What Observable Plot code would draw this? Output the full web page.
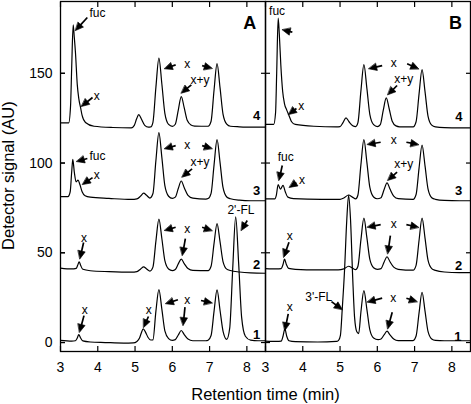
<!DOCTYPE html>
<html><head><meta charset="utf-8">
<script src="https://cdn.jsdelivr.net/npm/d3@7"></script>
<script src="https://cdn.jsdelivr.net/npm/@observablehq/plot@0.6"></script>
<style>
body{margin:0;background:#fff}
#chart svg{display:block}
</style>
</head><body><div id="chart"></div>
<script>
// ---- data ----
const panels = ["A", "B"];
const xTicks = [3, 4, 5, 6, 7, 8];
const yTicks = [0, 50, 100, 150];

// chromatogram traces: [retention time (min), detector signal (AU, as plotted)]
const A1 = [[3.0,1.2],[3.3,0.8],[3.4,1.0],[3.45,2.5],[3.49,4.4],[3.54,2.5],[3.6,0.9],[3.8,0.3],[4.2,0],[4.7,-0.3],[4.95,-0.2],[5.05,0.6],[5.12,2.5],[5.17,5.5],[5.22,7.6],[5.28,5.8],[5.35,2.8],[5.42,1.4],[5.48,1.5],[5.56,17.5],[5.64,29.5],[5.72,18.5],[5.8,6.5],[5.9,2.2],[6.0,1.2],[6.08,1.6],[6.16,4.2],[6.24,6.7],[6.32,4.4],[6.42,1.9],[6.55,1.0],[6.9,1.0],[6.96,1.3],[7.04,3.9],[7.12,17.5],[7.2,29.3],[7.28,18],[7.36,6.4],[7.46,1.8],[7.54,8],[7.62,41],[7.7,70],[7.78,44],[7.86,14],[7.96,3.5],[8.1,1.3],[8.3,1.0],[8.5,1.0]];
const A2 = [[3.0,41.5],[3.3,41],[3.42,41.3],[3.46,43],[3.5,45],[3.54,43],[3.6,40.8],[3.8,40],[4.3,39.5],[4.9,39.2],[5.05,39.5],[5.15,41],[5.23,42.2],[5.31,41],[5.4,39.8],[5.48,42.0],[5.56,56.5],[5.64,68.7],[5.72,57.8],[5.8,45.6],[5.9,41],[6.0,40.1],[6.08,40.7],[6.16,43.8],[6.24,46.5],[6.32,44],[6.42,41.2],[6.55,40.2],[6.96,40.1],[7.04,42.5],[7.12,55.2],[7.2,66.3],[7.28,56.2],[7.36,45.1],[7.46,40.9],[7.56,40.1],[7.8,39.3],[8.1,38.8],[8.5,38.6]];
const A3 = [[3.0,81.3],[3.2,81.3],[3.26,84],[3.3,95],[3.33,102],[3.37,95],[3.42,89.5],[3.47,90.5],[3.52,88],[3.58,84],[3.66,81.8],[3.8,81],[4.3,80.3],[4.9,79.7],[5.05,80],[5.15,81.6],[5.23,83.2],[5.31,82],[5.4,80.5],[5.48,83.0],[5.56,101.5],[5.64,117],[5.72,103],[5.8,87.4],[5.9,81.5],[6.0,80.3],[6.08,81],[6.16,85.8],[6.24,90],[6.32,86.2],[6.42,82],[6.55,80.4],[6.9,79.9],[6.96,80.2],[7.04,83.1],[7.12,99],[7.2,113],[7.28,100.4],[7.36,86.4],[7.46,81.1],[7.56,80.1],[7.8,79.3],[8.1,79],[8.5,79]];
const A4 = [[3.0,122.4],[3.22,122.4],[3.27,132],[3.3,153],[3.34,177],[3.37,170],[3.4,162],[3.45,143.7],[3.49,136],[3.54,130.7],[3.58,126.5],[3.67,122.6],[3.9,120.5],[4.4,119.8],[4.9,119.6],[4.98,121],[5.04,124.5],[5.1,127],[5.17,124.5],[5.26,121],[5.36,120],[5.42,120.1],[5.48,122.7],[5.56,142.3],[5.64,158.5],[5.72,143.9],[5.8,127.7],[5.9,121.5],[6.0,120.4],[6.08,121.6],[6.16,129.5],[6.24,137],[6.32,130.7],[6.4,123.8],[6.5,121.2],[6.6,120.6],[6.96,120.5],[7.04,123.3],[7.12,140.7],[7.2,155.4],[7.28,142],[7.36,127.3],[7.46,121.7],[7.56,120.5],[7.8,120.2],[8.1,120],[8.5,120]];
const B1 = [[3.0,0.8],[3.3,0.6],[3.42,0.8],[3.47,3.5],[3.52,7.6],[3.57,3.5],[3.63,1.0],[3.8,0.5],[4.4,0.3],[4.9,0.6],[4.96,1.2],[5.01,4],[5.06,19],[5.12,40],[5.18,68],[5.23,82],[5.28,69],[5.34,36],[5.39,14],[5.45,6],[5.5,5],[5.56,17],[5.64,28.9],[5.72,18.5],[5.8,7],[5.9,2.5],[6.02,1.6],[6.1,2.0],[6.18,4.2],[6.26,6.3],[6.34,4.3],[6.44,2.0],[6.56,1.1],[6.96,1.1],[7.04,3.6],[7.12,16.5],[7.2,28],[7.28,17.5],[7.36,6.2],[7.46,2.0],[7.56,1.2],[7.8,1.0],[8.2,1.0],[8.5,1.0]];
const B2 = [[3.0,41.2],[3.3,41],[3.42,41.2],[3.47,43.5],[3.51,46.5],[3.56,43.5],[3.62,41.3],[3.8,40.8],[4.4,40.5],[4.95,40.5],[5.1,41],[5.23,42.5],[5.33,41.5],[5.42,40.6],[5.48,42.5],[5.56,57.2],[5.64,69.3],[5.72,58.4],[5.8,46.3],[5.9,41.7],[6.0,40.8],[6.1,41.2],[6.18,44.7],[6.26,47.8],[6.34,45],[6.44,42],[6.56,40.8],[6.96,40.3],[7.04,43],[7.12,57],[7.2,69.3],[7.28,58.2],[7.36,45.9],[7.46,41.2],[7.56,40.2],[7.8,39.3],[8.2,39],[8.5,39]];
const B3 = [[3.0,80],[3.25,80],[3.29,82],[3.34,88],[3.4,85.4],[3.47,87.6],[3.53,84],[3.6,81],[3.75,80.2],[4.5,79.8],[5.0,79.8],[5.1,80.5],[5.23,82.2],[5.33,81],[5.42,80],[5.48,82.2],[5.56,99.1],[5.64,113],[5.72,100.4],[5.8,86.4],[5.9,81.1],[6.0,80.1],[6.1,80.7],[6.18,85.1],[6.26,89],[6.34,85.5],[6.44,81.6],[6.56,80.2],[6.96,79.8],[7.04,82.5],[7.12,97.2],[7.2,110],[7.28,98.4],[7.36,85.6],[7.46,80.7],[7.56,79.8],[7.8,79.2],[8.2,79],[8.5,79]];
const B4 = [[3.0,121.5],[3.22,121.5],[3.27,128],[3.3,150],[3.34,180.7],[3.37,172],[3.41,155],[3.46,140],[3.51,133],[3.57,129.5],[3.63,126.5],[3.7,123],[3.8,121.5],[4.3,120.5],[4.9,120.2],[5.0,120.3],[5.08,122.5],[5.16,125.2],[5.24,123],[5.34,120.8],[5.42,120.3],[5.48,122.5],[5.56,140.2],[5.64,154.8],[5.72,141.6],[5.8,127],[5.9,121.4],[6.0,120.3],[6.08,121.4],[6.16,129.5],[6.24,136.3],[6.32,130.1],[6.4,123.3],[6.5,120.7],[6.6,120.2],[6.96,120.1],[7.04,123],[7.12,138.5],[7.2,152],[7.28,139.8],[7.36,126.2],[7.46,121.1],[7.56,120.1],[7.8,119.7],[8.2,119.6],[8.5,119.6]];

const traces = {A: [A1, A2, A3, A4], B: [B1, B2, B3, B4]};

// annotation labels: [panel, time, signal, text]
const peakLabels = [
  ["A",3.99,183.3,"fuc"],["A",3.97,137,"x"],["A",6.40,155.3,"x"],["A",6.74,146,"x+y"],
  ["A",3.99,103.8,"fuc"],["A",3.97,93,"x"],["A",6.40,109.7,"x"],["A",6.74,100.4,"x+y"],
  ["A",3.63,58.3,"x"],["A",6.40,63.3,"x"],["A",7.84,73.5,"2'-FL"],
  ["A",3.65,18.2,"x"],["A",5.37,18.2,"x"],["A",6.40,23.8,"x"],
  ["B",3.31,184.4,"fuc"],["B",3.96,131.5,"x"],["B",6.44,155.6,"x"],["B",6.71,146.9,"x+y"],
  ["B",3.54,103.2,"fuc"],["B",3.98,90.3,"x"],["B",6.44,112.5,"x"],["B",6.71,99.6,"x+y"],
  ["B",3.65,59,"x"],["B",6.44,66.1,"x"],
  ["B",3.65,19.7,"x"],["B",4.43,25.2,"3'-FL"],["B",6.43,24.9,"x"]
];
// trace numbers: [panel, time, signal, text]
const traceNumbers = [
  ["A",8.26,4.5,"1"],["A",8.26,43.5,"2"],["A",8.26,84.7,"3"],["A",8.26,126.5,"4"],
  ["B",8.16,3.3,"1"],["B",8.18,42.9,"2"],["B",8.18,84.7,"3"],["B",8.19,125.5,"4"]
];
const panelLetters = [["A",8.08,177.7,"A"],["B",8.10,178,"B"]];
// arrows: [panel, tail time, tail signal, tip time, tip signal]
const arrows = [
  ["A",3.72,181.1,3.40,173.8],["A",3.86,136.5,3.56,131.5],["A",6.09,154.7,5.79,152.5],["A",6.80,154.3,7.07,152.8],["A",6.51,143.6,6.24,138.9],
  ["A",3.72,102.5,3.43,100.8],["A",3.86,91.9,3.59,88],["A",6.09,109.7,5.79,107.9],["A",6.80,109.7,7.07,108.1],["A",6.53,96.8,6.26,92.1],
  ["A",3.62,55.7,3.52,46.6],["A",6.09,64.2,5.79,62.4],["A",6.80,64.2,7.07,62.4],["A",6.35,57.9,6.27,48.5],["A",8.01,68,7.85,62.4],
  ["A",3.63,15,3.51,5.7],["A",5.36,14.5,5.23,8.4],["A",6.15,23.8,5.82,21.6],["A",6.77,23.4,7.07,22.1],["A",6.34,19.7,6.29,9.5],
  ["B",3.72,172.9,3.45,174.2],["B",3.83,130.4,3.62,127],["B",6.13,154.3,5.77,152.5],["B",6.80,155.3,7.11,152.5],["B",6.53,143.2,6.28,138],
  ["B",3.45,98.6,3.36,90.3],["B",3.83,89.1,3.64,86.4],["B",6.09,111.6,5.73,110.3],["B",6.78,111.6,7.11,110.3],["B",6.53,94.9,6.28,90.3],
  ["B",3.63,55.9,3.49,47.5],["B",6.09,65.7,5.73,64.2],["B",6.78,65.7,7.11,64.2],["B",6.35,59.6,6.28,49.4],
  ["B",3.61,16,3.52,6.7],["B",4.77,22.8,5.06,18.4],["B",6.13,24.7,5.73,22.5],["B",6.78,24.7,7.07,22.8],["B",6.40,16.9,6.28,7.6]
];
const xTitle = "Retention time (min)";
const yTitle = "Detector signal (AU)";

// ---- layout ----
const W = 471, H = 404, ML = 60, MR = 1, MT = 1, MB = 53;
const xDomain = [3, 8.5], yDomain = [-5, 190];
const kx = (W - ML - MR) / panels.length / (xDomain[1] - xDomain[0]);
const ky = (H - MT - MB) / (yDomain[1] - yDomain[0]);

const lineRows = [];
for (const p of panels) traces[p].forEach((tr, i) => tr.forEach(([t, v]) => lineRows.push({panel: p, trace: p + (i + 1), t, v})));
const toRows = arr => arr.map(([panel, t, v, text]) => ({panel, t, v, text}));
const headLen = 7;
const arrowRows = arrows.map(([panel, t0, v0, t1, v1]) => {
  const dx = (t1 - t0) * kx, dy = -(v1 - v0) * ky, L = Math.hypot(dx, dy);
  const ux = dx / L, uy = dy / L;
  return {panel, t0, v0, t1, v1,
    ts: t1 - ux * (headLen - 1) / kx, vs: v1 + uy * (headLen - 1) / ky,
    rot: Math.atan2(dx, -dy) * 180 / Math.PI};
});
const head = {draw(ctx) { ctx.moveTo(0, 0); ctx.lineTo(-3.6, headLen + 1); ctx.lineTo(3.6, headLen + 1); ctx.closePath(); }};

const font = "'Liberation Sans', Arial, Helvetica, sans-serif";
const chart = Plot.plot({
  width: W, height: H, marginLeft: ML, marginRight: MR, marginTop: MT, marginBottom: MB,
  style: {fontFamily: font, fontSize: "13px", background: "white", color: "black"},
  fx: {domain: panels, padding: 0, axis: null, label: null},
  x: {domain: xDomain, label: null},
  y: {domain: yDomain, label: null},
  marks: [
    Plot.axisX({ticks: xTicks, tickSize: -5, tickPadding: 16, tickFormat: d3.format("d"), fontSize: 14, label: null, strokeWidth: 1.2}),
    Plot.axisX({anchor: "top", ticks: xTicks, tickSize: -5, tickFormat: () => "", label: null, facetAnchor: null, strokeWidth: 1.2}),
    Plot.axisY({ticks: yTicks, tickSize: -5, tickPadding: 13, tickFormat: d3.format("d"), fontSize: 14, label: null, strokeWidth: 1.2}),
    Plot.axisY({anchor: "left", ticks: yTicks, tickSize: -5, tickFormat: () => "", label: null, facetAnchor: null, strokeWidth: 1.2}),
    Plot.axisY({anchor: "right", ticks: yTicks, tickSize: -5, tickFormat: () => "", label: null, facetAnchor: null, strokeWidth: 1.2}),
    Plot.frame({stroke: "black", strokeWidth: 1.3}),
    Plot.line(lineRows, {fx: "panel", x: "t", y: "v", z: "trace", curve: "monotone-x", stroke: "black", strokeWidth: 1.2}),
    Plot.link(arrowRows, {fx: "panel", x1: "t0", y1: "v0", x2: "ts", y2: "vs", stroke: "black", strokeWidth: 1.7}),
    Plot.vector(arrowRows, {fx: "panel", x: "t1", y: "v1", rotate: "rot", anchor: "start", shape: head, fill: "black", stroke: "black", strokeWidth: 0.6}),
    Plot.text(toRows(peakLabels), {fx: "panel", x: "t", y: "v", text: "text", fontSize: 12}),
    Plot.text(toRows(traceNumbers), {fx: "panel", x: "t", y: "v", text: "text", fontSize: 13, fontWeight: "bold"}),
    Plot.text(toRows(panelLetters), {fx: "panel", x: "t", y: "v", text: "text", fontSize: 18, fontWeight: "bold"}),
    Plot.text([{panel: "A", v: 93}], {fx: "panel", y: "v", frameAnchor: "left", textAnchor: "middle", lineAnchor: "middle", dx: -52, rotate: -90, text: () => yTitle, fontSize: 16.5}),
    Plot.text([{panel: "B", t: 3}], {fx: "panel", x: "t", frameAnchor: "bottom", textAnchor: "middle", lineAnchor: "middle", dy: 43, text: () => xTitle, fontSize: 16.5})
  ]
});
document.getElementById("chart").appendChild(chart);
</script>
</body></html>
